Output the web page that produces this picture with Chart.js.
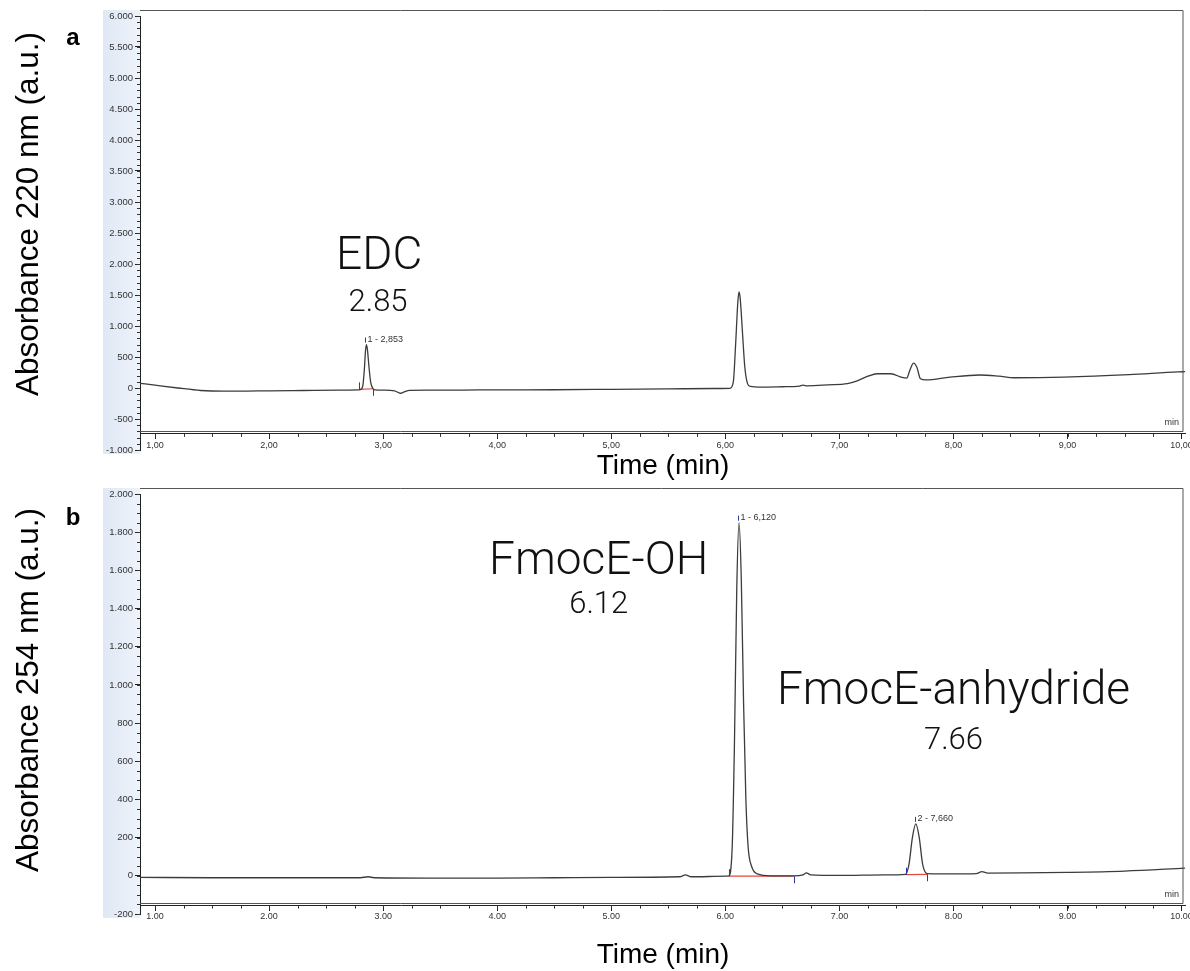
<!DOCTYPE html>
<html>
<head>
<meta charset="utf-8">
<script src="https://cdn.jsdelivr.net/npm/chart.js@4.4.0/dist/chart.umd.min.js"></script>
<style>
  body { margin: 0; background: #fff; }
  .panel { position: absolute; left: 0; width: 1190px; }
</style>
</head>
<body>
<div class="panel" style="top:0;height:485px"><canvas id="chart-a"></canvas></div>
<div class="panel" style="top:485px;height:486px"><canvas id="chart-b"></canvas></div>
<script>
// ---- panel a : 220 nm ----
const timeA = [0.87, 1.0, 1.2, 1.4, 1.6, 1.8, 2.0, 2.3, 2.6, 2.78, 2.80, 2.82, 2.835, 2.845, 2.853, 2.862, 2.875, 2.89, 2.91, 2.93,
  3.0, 3.10, 3.15, 3.19, 3.23, 3.4, 3.7, 4.0, 4.5, 5.0, 5.5, 5.9, 6.04, 6.07, 6.09, 6.11, 6.12, 6.13, 6.15, 6.17, 6.19, 6.22,
  6.3, 6.5, 6.65, 6.68, 6.72, 6.9, 7.07, 7.15, 7.25, 7.33, 7.45, 7.55, 7.59, 7.62, 7.65, 7.68, 7.71, 7.76, 7.97, 8.23, 8.4,
  8.53, 8.97, 9.54, 9.97, 10.03];
const absA = [75, 45, 0, -40, -52, -50, -45, -40, -35, -30, -25, 20, 300, 600, 700, 620, 350, 100, -10, -30,
  -35, -45, -85, -60, -38, -35, -33, -30, -28, -22, -15, -8, -5, 100, 700, 1400, 1550, 1450, 900, 350, 100, 25,
  15, 20, 30, 45, 35, 50, 70, 110, 190, 230, 230, 170, 160, 300, 400, 330, 150, 130, 175, 210, 190,
  165, 175, 215, 260, 263];
const yTicksA = [-1000, -500, 0, 500, 1000, 1500, 2000, 2500, 3000, 3500, 4000, 4500, 5000, 5500, 6000];
const baselineA = [[[2.79, -22], [2.91, -12]]];
const marksA = [[2.79, -22, -1], [2.91, -12, 1]];
const peaksA = [[2.853, 700, '1 - 2,853']];
const namesA = [['EDC', 2.965, 2110, 46], ['2.85', 2.955, 1370, 31]];

// ---- panel b : 254 nm ----
const timeB = [0.87, 1.5, 2.0, 2.8, 2.87, 2.92, 3.5, 4.0, 4.5, 5.0, 5.6, 5.65, 5.7, 6.0, 6.03, 6.06, 6.08, 6.10, 6.12,
  6.14, 6.16, 6.18, 6.20, 6.23, 6.28, 6.4, 6.6, 6.68, 6.71, 6.75, 7.0, 7.4, 7.58, 7.61, 7.64, 7.67, 7.70, 7.73, 7.77,
  8.0, 8.2, 8.25, 8.3, 8.6, 9.0, 9.5, 10.03];
const absB = [-8, -10, -10, -10, -5, -10, -12, -12, -10, -8, -5, 5, -5, -2, 0, 150, 700, 1500, 1850,
  1550, 900, 400, 150, 50, 10, 0, 0, 5, 15, 5, 2, 5, 8, 60, 200, 272, 200, 60, 12,
  10, 12, 22, 14, 15, 18, 25, 40];
const yTicksB = [-200, 0, 200, 400, 600, 800, 1000, 1200, 1400, 1600, 1800, 2000];
const baselineB = [[[6.03, -2], [6.60, -2]], [[7.58, 6], [7.77, 8]]];
const marksB = [[6.03, -2, -1], [6.60, -2, 1], [7.58, 6, -1], [7.77, 8, 1]];
const peaksB = [[6.12, 1850, '1 - 6,120'], [7.67, 272, '2 - 7,660']];
const namesB = [['FmocE-OH', 4.89, 1640, 46], ['6.12', 4.89, 1415, 31],
  ['FmocE-anhydride', 8.0, 958, 46], ['7.66', 8.0, 707, 31]];

const xTicks = [1, 2, 3, 4, 5, 6, 7, 8, 9, 10];

const tickFont = { family: 'Liberation Sans, Arial, sans-serif', size: 9 };
const thousands = v => String(v).replace(/\B(?=(\d{3})+(?!\d))/g, '.');

const chromPlugin = {
  id: 'chrom',
  beforeDraw(chart, args, o) {
    const { ctx, chartArea: a } = chart;
    ctx.save();
    const g = ctx.createLinearGradient(103, 0, a.left, 0);
    g.addColorStop(0, '#dfe8f5');
    g.addColorStop(1, '#eef3fa');
    ctx.fillStyle = g;
    ctx.fillRect(103, a.top - 6, a.left - 103, a.bottom - a.top + 10);
    ctx.restore();
  },
  afterDraw(chart, args, o) {
    const { ctx, chartArea: a, scales: { x, y } } = chart;
    ctx.save();

    // plot frame
    const fb = Math.round(y.getPixelForValue(o.frameBottom)) + 0.5;
    const ft = a.top - 5.5;
    ctx.strokeStyle = '#555';
    ctx.lineWidth = 1;
    ctx.beginPath();
    ctx.moveTo(a.left, ft); ctx.lineTo(a.right - 2, ft); ctx.lineTo(a.right - 2, fb);
    ctx.moveTo(a.left, fb); ctx.lineTo(a.right - 2, fb);
    ctx.stroke();

    // minor ticks
    ctx.strokeStyle = '#333';
    ctx.beginPath();
    for (let v = o.yMin; v <= o.yMax; v += o.yMinor) {
      const py = Math.round(y.getPixelForValue(v)) + 0.5;
      ctx.moveTo(a.left - 3, py); ctx.lineTo(a.left, py);
    }
    const ax = y.getPixelForValue(o.axisAt);
    for (let v = 1; v < 10; v += 0.25) {
      const px = Math.round(x.getPixelForValue(v)) + 0.5;
      ctx.moveTo(px, ax); ctx.lineTo(px, ax + 3);
    }
    ctx.stroke();

    // integration marks
    ctx.strokeStyle = '#2b3a9a';
    ctx.beginPath();
    o.marks.forEach(([t, v, dir]) => {
      const px = Math.round(x.getPixelForValue(t)) + 0.5;
      const py = y.getPixelForValue(v);
      ctx.moveTo(px, py); ctx.lineTo(px, py + dir * 7);
    });
    ctx.stroke();

    // peak labels
    ctx.font = '9px Liberation Sans, Arial, sans-serif';
    ctx.textBaseline = 'middle';
    o.peaks.forEach(([t, v, txt]) => {
      const px = Math.round(x.getPixelForValue(t)) + 0.5;
      const py = y.getPixelForValue(v);
      ctx.strokeStyle = '#2b3a9a';
      ctx.beginPath(); ctx.moveTo(px - 1, py - 2); ctx.lineTo(px - 1, py - 7); ctx.stroke();
      ctx.fillStyle = '#333';
      ctx.fillText(txt, px + 1, py - 5);
    });

    // "min" unit
    ctx.textAlign = 'right';
    ctx.fillText('min', a.right - 6, fb - 9);

    // compound names
    ctx.fillStyle = '#111';
    ctx.textAlign = 'center';
    o.names.forEach(([txt, t, v, size]) => {
      ctx.font = '300 ' + size + 'px Roboto, Liberation Sans, sans-serif';
      ctx.fillText(txt, x.getPixelForValue(t), y.getPixelForValue(v));
    });

    // panel letter
    ctx.font = 'bold 24px Liberation Sans, Arial, sans-serif';
    ctx.fillStyle = '#000';
    ctx.fillText(o.letter, 73, o.letterY);

    // axis titles
    ctx.font = '28px Liberation Sans, Arial, sans-serif';
    ctx.fillText('Time (min)', 663, o.xTitleY);
    ctx.translate(29, o.yTitleY);
    ctx.rotate(-Math.PI / 2);
    ctx.font = o.yTitleSize + 'px Liberation Sans, Arial, sans-serif';
    ctx.fillText(o.yTitle, 0, 0);
    ctx.restore();
  }
};

function buildChart(id, time, abs, baselines, cfg) {
  const datasets = [{
    data: time.map((t, i) => ({ x: t, y: abs[i] })),
    borderColor: '#3c3c3c',
    borderWidth: 1.3,
    pointRadius: 0,
    cubicInterpolationMode: 'monotone'
  }];
  baselines.forEach(seg => datasets.push({
    data: seg.map(([t, v]) => ({ x: t, y: v })),
    borderColor: '#e2473b',
    borderWidth: 1.2,
    pointRadius: 0
  }));

  return new Chart(document.getElementById(id), {
    type: 'line',
    data: { datasets: datasets },
    options: {
      responsive: true,
      maintainAspectRatio: false,
      animation: false,
      layout: { padding: { left: 0, right: 5, top: cfg.padTop, bottom: cfg.padBottom } },
      scales: {
        x: {
          type: 'linear',
          min: 0.868,
          max: 10.03,
          position: { y: cfg.axisAt },
          afterBuildTicks: s => { s.ticks = xTicks.map(v => ({ value: v })); },
          // last label is cut by the page edge, like the instrument screenshot
          afterFit: s => { s.paddingRight = 0; s.paddingLeft = 0; },
          border: { display: true, color: '#222', width: 1 },
          grid: { drawOnChartArea: false, drawTicks: true, tickLength: 5, color: '#222' },
          ticks: { font: tickFont, color: '#333', padding: 1, maxRotation: 0, autoSkip: false, callback: cfg.xFormat }
        },
        y: {
          type: 'linear',
          min: cfg.yMin,
          max: cfg.yMax,
          afterFit: s => { s.width = 140; },
          afterBuildTicks: s => { s.ticks = cfg.yTicks.map(v => ({ value: v })); },
          border: { display: true, color: '#222', width: 1 },
          grid: { drawOnChartArea: false, drawTicks: true, tickLength: 5, color: '#222' },
          ticks: { font: { family: tickFont.family, size: 9.5 }, color: '#333', padding: 2, autoSkip: false, callback: v => thousands(v) }
        }
      },
      plugins: {
        legend: { display: false },
        tooltip: { enabled: false },
        chrom: cfg.chrom
      }
    },
    plugins: [chromPlugin]
  });
}

buildChart('chart-a', timeA, absA, baselineA, {
  padTop: 16, padBottom: 35, axisAt: -740, yMin: -1000, yMax: 6000, yTicks: yTicksA,
  xFormat: v => v.toFixed(2).replace('.', ','),
  chrom: { frameBottom: -690, axisAt: -740, yMin: -1000, yMax: 6000, yMinor: 100,
    marks: marksA, peaks: peaksA, names: namesA, letter: 'a', letterY: 38,
    xTitleY: 466, yTitleY: 214, yTitleSize: 31.5, yTitle: 'Absorbance 220 nm (a.u.)' }
});

buildChart('chart-b', timeB, absB, baselineB, {
  padTop: 9, padBottom: 57, axisAt: -156, yMin: -200, yMax: 2000, yTicks: yTicksB,
  xFormat: v => v.toFixed(2),
  chrom: { frameBottom: -140, axisAt: -156, yMin: -200, yMax: 2000, yMinor: 50,
    marks: marksB, peaks: peaksB, names: namesB, letter: 'b', letterY: 33,
    xTitleY: 470, yTitleY: 205, yTitleSize: 31.5, yTitle: 'Absorbance 254 nm (a.u.)' }
});
</script>
</body>
</html>
